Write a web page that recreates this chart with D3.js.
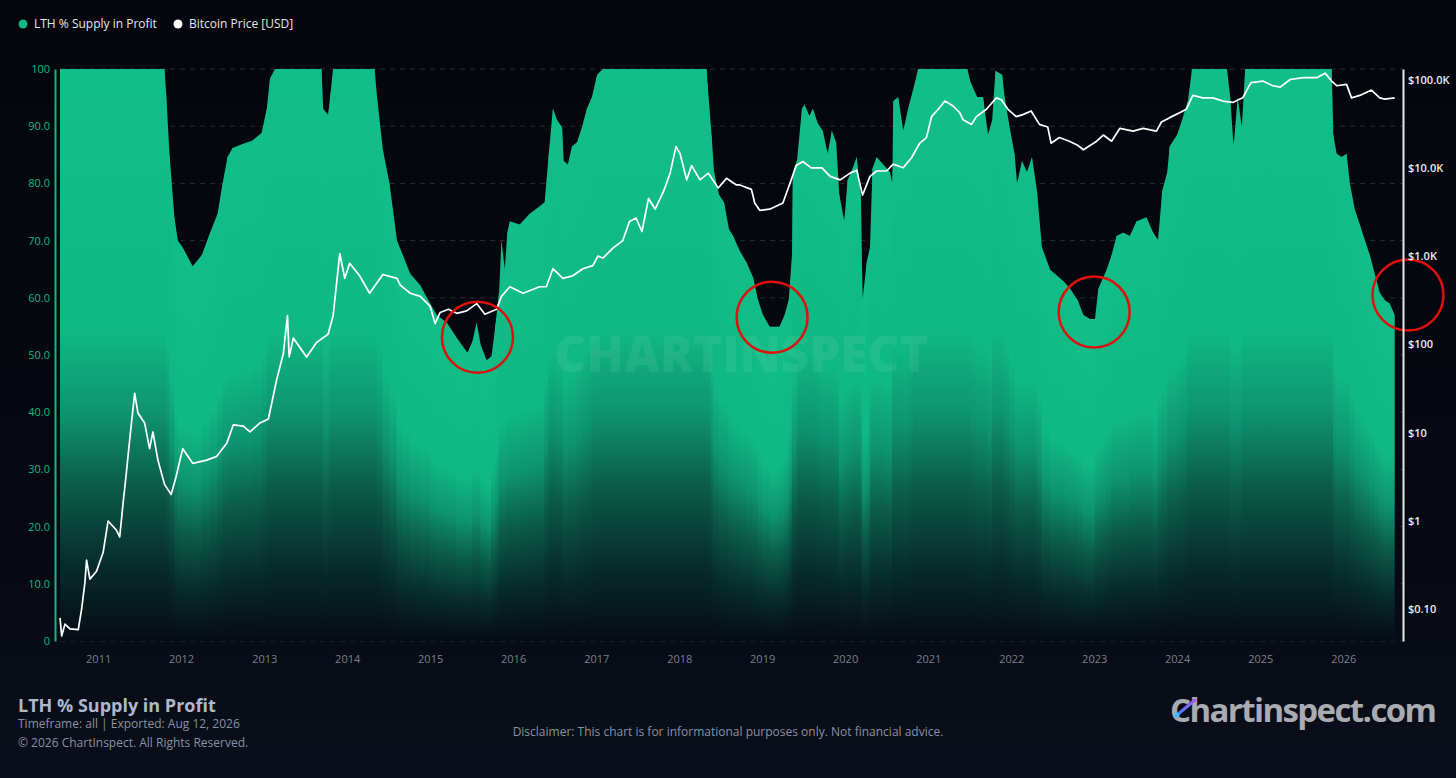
<!DOCTYPE html>
<html>
<head>
<meta charset="utf-8">
<script src="https://cdn.jsdelivr.net/npm/d3@7"></script>
<style>
  html, body { margin: 0; padding: 0; background: #05070e; }
  svg { display: block; font-family: "Open Sans", "Noto Sans", sans-serif; }
</style>
</head>
<body>
<svg id="chart" width="1456" height="778"></svg>
<script>
// ---------------- data (decimal year, value) ----------------
var lthPoints = [
  [2010.54,100],[2011.80,100],[2011.82,95.7],[2011.86,85],[2011.92,74],[2011.96,70],
  [2012.02,68.8],[2012.14,65.5],[2012.25,67.5],[2012.35,71.4],[2012.44,74.7],[2012.50,80],
  [2012.56,84.6],[2012.62,86.2],[2012.74,86.9],[2012.86,87.5],[2012.97,88.8],[2013.03,93],
  [2013.07,98.4],[2013.13,100],[2013.69,100],[2013.71,93],[2013.77,92],[2013.80,96],
  [2013.83,100],[2014.33,100],[2014.36,95],[2014.43,85.9],[2014.51,80],[2014.60,70],
  [2014.67,67.5],[2014.76,64.2],[2014.88,62.2],[2015.00,59],[2015.08,57],[2015.20,55.7],
  [2015.32,53],[2015.45,50.4],[2015.51,52.4],[2015.56,55.7],[2015.61,51.7],[2015.68,49.1],
  [2015.74,49.8],[2015.79,55.7],[2015.83,61],[2015.86,70],[2015.90,64.9],[2015.93,71.4],
  [2015.96,73.4],[2016.08,72.8],[2016.20,74.7],[2016.32,76],[2016.38,76.7],[2016.43,85.2],
  [2016.48,93.1],[2016.53,91.1],[2016.59,89.8],[2016.61,83.9],[2016.66,83.3],[2016.71,86.5],
  [2016.77,87.2],[2016.83,89.8],[2016.89,93.1],[2016.95,95.1],[2017.01,99],[2017.08,100],
  [2018.33,100],[2018.34,97.7],[2018.39,88.5],[2018.42,82],[2018.48,78],[2018.54,76.7],
  [2018.60,72],[2018.65,70.8],[2018.73,68.2],[2018.81,66.2],[2018.89,63.6],[2018.95,59.6],
  [2019.01,57],[2019.09,55],[2019.21,55],[2019.27,57],[2019.32,59.6],[2019.36,67.5],
  [2019.37,82],[2019.42,84],[2019.48,93.1],[2019.51,93.8],[2019.57,91.8],[2019.61,93.1],
  [2019.67,90.5],[2019.73,89.2],[2019.79,85.2],[2019.84,89.2],[2019.89,87.2],[2019.93,78],
  [2019.99,73.4],[2020.03,80.6],[2020.09,82.6],[2020.14,84.6],[2020.19,78],[2020.21,59.6],
  [2020.26,66.2],[2020.30,68.8],[2020.33,82.6],[2020.38,84.6],[2020.46,83.3],[2020.54,82],
  [2020.57,80],[2020.58,94.4],[2020.64,95.1],[2020.70,89.2],[2020.76,93.1],[2020.82,96.4],
  [2020.88,100],[2021.47,100],[2021.51,97.7],[2021.59,95.1],[2021.66,95.1],[2021.72,88.5],
  [2021.77,91.1],[2021.81,99.7],[2021.89,99],[2021.92,95.1],[2021.98,89.8],[2022.04,85.2],
  [2022.07,80],[2022.13,83.9],[2022.19,82],[2022.25,84.6],[2022.31,78.7],[2022.37,68.8],
  [2022.47,64.9],[2022.63,62.9],[2022.71,61.6],[2022.80,59.6],[2022.87,57],[2022.95,56.3],
  [2023.01,56.3],[2023.05,61.6],[2023.11,63.6],[2023.15,64.9],[2023.21,67.5],[2023.27,70.8],
  [2023.35,71.4],[2023.43,70.8],[2023.51,73.4],[2023.63,74.1],[2023.71,71.4],[2023.77,70.1],
  [2023.82,78.7],[2023.88,81.9],[2023.91,86.5],[2024.00,88.5],[2024.06,91.1],[2024.10,93.1],
  [2024.13,94.4],[2024.18,100],[2024.60,100],[2024.64,95],[2024.68,86.5],[2024.73,95],
  [2024.78,89.8],[2024.82,100],[2025.86,100],[2025.88,88.5],[2025.92,85.2],[2025.98,84.6],
  [2026.04,85.2],[2026.08,80],[2026.14,75.4],[2026.20,72.8],[2026.26,70.1],[2026.32,67.5],
  [2026.38,64.2],[2026.44,60.9],[2026.50,59.6],[2026.56,59],[2026.62,57]
];

var pricePoints = [
  [2010.54,0.08],[2010.56,0.05],[2010.60,0.068],[2010.66,0.06],[2010.76,0.059],[2010.80,0.10],
  [2010.84,0.20],[2010.86,0.36],[2010.90,0.22],[2010.98,0.27],[2011.06,0.44],[2011.12,1.0],
  [2011.22,0.79],[2011.26,0.66],[2011.30,1.57],[2011.34,3.5],[2011.38,8.3],[2011.44,28],
  [2011.48,16.7],[2011.56,12.9],[2011.62,6.6],[2011.66,10.2],[2011.72,4.9],[2011.80,2.6],
  [2011.88,2.0],[2011.94,3.2],[2012.02,6.6],[2012.14,4.5],[2012.31,4.9],[2012.43,5.4],
  [2012.55,7.6],[2012.63,12.3],[2012.75,11.9],[2012.83,10.2],[2012.95,12.9],[2013.05,14.3],
  [2013.15,40],[2013.23,79],[2013.28,212],[2013.30,72],[2013.35,118],[2013.51,72],
  [2013.63,105],[2013.77,131],[2013.83,212],[2013.91,1070],[2013.97,560],[2014.03,830],
  [2014.15,600],[2014.27,380],[2014.43,620],[2014.60,560],[2014.64,470],[2014.76,380],
  [2014.88,350],[2015.00,270],[2015.06,172],[2015.12,230],[2015.22,250],[2015.32,225],
  [2015.44,240],[2015.56,290],[2015.66,220],[2015.80,250],[2015.86,350],[2015.96,450],
  [2016.12,380],[2016.32,450],[2016.40,450],[2016.48,720],[2016.60,560],[2016.72,600],
  [2016.84,720],[2016.96,780],[2017.02,1000],[2017.08,950],[2017.20,1230],[2017.32,1500],
  [2017.40,2460],[2017.48,2700],[2017.55,1900],[2017.63,4500],[2017.71,3400],[2017.81,5400],
  [2017.89,8700],[2017.96,17400],[2018.01,14500],[2018.09,7300],[2018.15,10600],[2018.25,7300],
  [2018.35,8700],[2018.47,5900],[2018.57,7600],[2018.69,6400],[2018.73,6400],[2018.87,5700],
  [2018.91,4000],[2018.97,3300],[2019.09,3400],[2019.25,4000],[2019.35,7300],[2019.41,10600],
  [2019.49,11800],[2019.59,10000],[2019.72,10000],[2019.82,8000],[2019.94,7300],[2020.06,8700],
  [2020.14,9400],[2020.21,4900],[2020.30,8000],[2020.38,9200],[2020.50,9200],[2020.58,11000],
  [2020.70,10000],[2020.80,13000],[2020.90,19000],[2020.98,22000],[2021.04,38000],[2021.12,46000],
  [2021.20,57000],[2021.30,50000],[2021.38,42000],[2021.42,35000],[2021.52,31000],[2021.58,38000],
  [2021.70,46000],[2021.82,62000],[2021.88,59000],[2021.96,46000],[2022.06,38000],[2022.14,40000],
  [2022.24,44000],[2022.34,31000],[2022.44,29000],[2022.48,19000],[2022.58,22000],[2022.70,20000],
  [2022.80,18000],[2022.87,16000],[2023.03,20000],[2023.11,23500],[2023.21,20000],[2023.31,28000],
  [2023.47,26000],[2023.59,28000],[2023.75,26000],[2023.81,33000],[2023.91,37000],[2024.03,42000],
  [2024.11,46000],[2024.19,66000],[2024.31,62000],[2024.43,62000],[2024.55,57000],[2024.67,55000],
  [2024.79,62000],[2024.89,92000],[2025.03,96000],[2025.15,85000],[2025.24,82000],[2025.36,100000],
  [2025.52,105000],[2025.68,105000],[2025.78,118000],[2025.86,96000],[2025.92,85000],[2026.04,88000],
  [2026.10,62000],[2026.20,66000],[2026.34,76000],[2026.44,62000],[2026.50,60000],[2026.62,62000]
];

var lthTicks = [0, 10, 20, 30, 40, 50, 60, 70, 80, 90, 100];
var priceTicks = [0.1, 1, 10, 100, 1000, 10000, 100000];
var priceTickLabels = ["$0.10", "$1", "$10", "$100", "$1.0K", "$10.0K", "$100.0K"];

// annotation circles: [decimal year, LTH %]
var circleMarks = [[2015.57, 53.1], [2019.12, 56.6], [2023.00, 57.5], [2026.78, 60.5]];

var timeDomain = [2010.54, 2026.72];
var priceDomain = [0.0438, 131500];

// ---------------- setup ----------------
var W = 1456, H = 778;
var plot = {left: 60, right: 1403, top: 69, bottom: 641};

function yearToDate(t) {
  var y = Math.floor(t);
  return new Date(Date.UTC(y, 0, 1) + (t - y) * 365.25 * 864e5);
}

var x = d3.scaleUtc().domain(timeDomain.map(yearToDate)).range([plot.left, plot.right]);
var yL = d3.scaleLinear().domain([0, 100]).range([plot.bottom, plot.top]);
var yR = d3.scaleLog().domain(priceDomain).range([plot.bottom, plot.top]);

var svg = d3.select("#chart");
var defs = svg.append("defs");

// background
var bg = defs.append("linearGradient").attr("id", "bg")
    .attr("x1", "0%").attr("y1", "0%").attr("x2", "0%").attr("y2", "100%");
bg.append("stop").attr("offset", "0%").attr("stop-color", "#04060c");
bg.append("stop").attr("offset", "70%").attr("stop-color", "#060912");
bg.append("stop").attr("offset", "100%").attr("stop-color", "#0a0f1b");
svg.append("rect").attr("width", W).attr("height", H).attr("fill", "url(#bg)");

// per-bar fill gradient (stretches over each bar's own height)
var g1 = defs.append("linearGradient").attr("id", "lthFill")
    .attr("x1", 0).attr("y1", 0).attr("x2", 0).attr("y2", 1);
[["0%", "#12be88"], ["46%", "#10b882"], ["60%", "#0e9470"],
 ["73%", "#0b5c48"], ["87%", "#072b2b"], ["100%", "#060b14"]]
  .forEach(function(s) {
    g1.append("stop").attr("offset", s[0]).attr("stop-color", s[1]);
  });

// grid
svg.append("g").selectAll("line")
    .data(lthTicks)
    .enter().append("line")
    .attr("x1", plot.left).attr("x2", plot.right)
    .attr("y1", function(d) { return yL(d); })
    .attr("y2", function(d) { return yL(d); })
    .attr("stroke", "#262d38")
    .attr("stroke-dasharray", "5,5")
    .attr("stroke-width", 1);

// LTH area: shape comes from the area, colour from bars clipped to it
var area = d3.area()
    .x(function(d) { return x(yearToDate(d[0])); })
    .y0(yL(0))
    .y1(function(d) { return yL(d[1]); });

defs.append("clipPath").attr("id", "lthClip")
  .append("path").datum(lthPoints).attr("d", area);

var segs = d3.pairs(lthPoints);
svg.append("g")
    .attr("clip-path", "url(#lthClip)")
    .selectAll("rect")
    .data(segs)
    .enter().append("rect")
    .attr("x", function(d) { return x(yearToDate(d[0][0])) - 0.4; })
    .attr("width", function(d) { return x(yearToDate(d[1][0])) - x(yearToDate(d[0][0])) + 0.8; })
    .attr("y", function(d) { return yL(Math.max(d[0][1], d[1][1])); })
    .attr("height", function(d) { return yL(0) - yL(Math.max(d[0][1], d[1][1])); })
    .attr("fill", "url(#lthFill)");

// watermark
svg.append("text")
    .attr("x", (plot.left + plot.right) / 2 + 10)
    .attr("y", 372)
    .attr("text-anchor", "middle")
    .attr("font-size", 49)
    .attr("font-weight", 800)
    .attr("textLength", 374)
    .attr("fill", "#ffffff")
    .attr("fill-opacity", 0.07)
    .text("CHARTINSPECT");

// price line
var line = d3.line()
    .x(function(d) { return x(yearToDate(d[0])); })
    .y(function(d) { return yR(d[1]); });

svg.append("path")
    .datum(pricePoints)
    .attr("d", line)
    .attr("fill", "none")
    .attr("stroke", "#ffffff")
    .attr("stroke-width", 1.7)
    .attr("stroke-linejoin", "round");

// red circles
svg.append("g").selectAll("circle")
    .data(circleMarks)
    .enter().append("circle")
    .attr("cx", function(d) { return x(yearToDate(d[0])); })
    .attr("cy", function(d) { return yL(d[1]); })
    .attr("r", 35.5)
    .attr("fill", "none")
    .attr("stroke", "#e0100f")
    .attr("stroke-width", 2.5);

// left axis
var axL = svg.append("g")
    .attr("transform", "translate(55,0)")
    .call(d3.axisLeft(yL).tickValues(lthTicks).tickSize(0).tickSizeOuter(0).tickPadding(5)
      .tickFormat(function(d) { return (d === 0 || d === 100) ? String(d) : d.toFixed(1); }));
axL.select(".domain").attr("stroke", "#10b981").attr("stroke-width", 2);
axL.selectAll("text").attr("fill", "#10b981").attr("font-size", 11).attr("font-family", "Open Sans");

// right axis
var axR = svg.append("g")
    .attr("transform", "translate(" + plot.right + ",0)")
    .call(d3.axisRight(yR).tickValues(priceTicks).tickSize(0).tickSizeOuter(0).tickPadding(5)
      .tickFormat(function(d, i) { return priceTickLabels[i]; }));
axR.select(".domain").attr("stroke", "#e8e8e8").attr("stroke-width", 2);
axR.selectAll("text").attr("fill", "#ececec").attr("font-size", 11)
    .attr("font-weight", 600).attr("font-family", "Open Sans");

// bottom axis
var axB = svg.append("g")
    .attr("transform", "translate(0," + plot.bottom + ")")
    .call(d3.axisBottom(x).ticks(d3.utcYear.every(1)).tickFormat(d3.utcFormat("%Y"))
      .tickSize(0).tickPadding(14));
axB.select(".domain").remove();
axB.selectAll("text").attr("fill", "#7b818d").attr("font-size", 11).attr("font-family", "Open Sans");

// legend
var legend = svg.append("g").attr("font-size", 12).attr("fill", "#e4e6ea");
legend.append("circle").attr("cx", 23).attr("cy", 24).attr("r", 4.5).attr("fill", "#10b981");
legend.append("text").attr("x", 34).attr("y", 28).text("LTH % Supply in Profit");
legend.append("circle").attr("cx", 178).attr("cy", 24).attr("r", 4.5).attr("fill", "#ffffff");
legend.append("text").attr("x", 189).attr("y", 28).text("Bitcoin Price [USD]");

// footer
svg.append("text").attr("x", 18).attr("y", 712)
    .attr("font-size", 18).attr("font-weight", 700).attr("fill", "#aeb8ca")
    .text("LTH % Supply in Profit");
svg.append("text").attr("x", 18).attr("y", 728)
    .attr("font-size", 12).attr("fill", "#8a92a2")
    .text("Timeframe: all | Exported: Aug 12, 2026");
svg.append("text").attr("x", 18).attr("y", 747)
    .attr("font-size", 12).attr("fill", "#8a92a2")
    .text("\u00a9 2026 ChartInspect. All Rights Reserved.");
svg.append("text").attr("x", 728).attr("y", 736)
    .attr("text-anchor", "middle")
    .attr("font-size", 12).attr("fill", "#8a92a2")
    .text("Disclaimer: This chart is for informational purposes only. Not financial advice.");

// logo
var lg = defs.append("linearGradient").attr("id", "logoStreak")
    .attr("x1", "0%").attr("y1", "100%").attr("x2", "100%").attr("y2", "0%");
lg.append("stop").attr("offset", "0%").attr("stop-color", "#3b82f6");
lg.append("stop").attr("offset", "100%").attr("stop-color", "#a855f7");
svg.append("text").attr("x", 1170).attr("y", 722)
    .attr("font-size", 33).attr("font-weight", 700)
    .attr("textLength", 267)
    .attr("fill", "#a9abb2")
    .text("Chartinspect.com");
svg.append("line").attr("x1", 1177).attr("y1", 715).attr("x2", 1195).attr("y2", 700)
    .attr("stroke", "url(#logoStreak)").attr("stroke-width", 3).attr("stroke-linecap", "round");
svg.append("circle").attr("cx", 1177).attr("cy", 715).attr("r", 2.5).attr("fill", "#38bdf8");
</script>
</body>
</html>
